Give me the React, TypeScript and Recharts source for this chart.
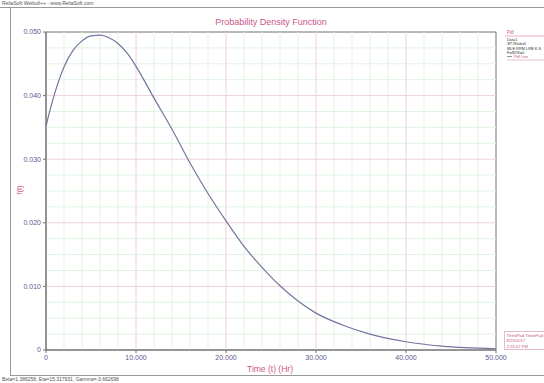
import React from 'react';
import { LineChart, Line, XAxis, YAxis, ReferenceLine, ReferenceArea } from 'recharts';

const times = [0, 0.5, 1, 2, 3, 4, 5, 6, 7, 8, 9, 10, 12, 14, 16, 18, 20, 22, 24, 26, 28, 30, 33, 36, 40, 44, 50];
const pdfValues = [0.0352, 0.038, 0.0405, 0.0445, 0.0471, 0.0486, 0.0494, 0.0495, 0.0491, 0.0482, 0.0467, 0.0446, 0.0396, 0.0347, 0.0294, 0.0246, 0.0203, 0.0163, 0.013, 0.0101, 0.0077, 0.0058, 0.0039, 0.0025, 0.0013, 0.0006, 0.0002];
const xTicks = [0, 10, 20, 30, 40, 50];
const yTicks = [0, 0.01, 0.02, 0.03, 0.04, 0.05];
const xMinor = [2, 4, 6, 8, 12, 14, 16, 18, 22, 24, 26, 28, 32, 34, 36, 38, 42, 44, 46, 48];
const yMinor = [0.0025, 0.005, 0.0075, 0.0125, 0.015, 0.0175, 0.0225, 0.025, 0.0275, 0.0325, 0.035, 0.0375, 0.0425, 0.045, 0.0475];
const xMajorGrid = [10, 20, 30, 40];
const yMajorGrid = [0.01, 0.02, 0.03, 0.04];
const legendLines = ['Data1', '3P-Weibull', 'MLE RRM LRB K-S', 'F=92/S=0'];
const stampLines = ['ThinkPad ThinkPad', '8/23/2017', '2:23:47 PM'];

const data = times.map((t, i) => ({ t, f: pdfValues[i] }));

const fmt = (v: number) => (v === 0 ? '0' : v.toFixed(3));

const PINK = '#cc5588';
const TICK = '#5a5a90';

export default function App() {
  return (
    <div style={{ position: 'absolute', left: 0, top: 0, width: 544, height: 383, background: '#fff', fontFamily: '"Liberation Sans", Arial, sans-serif' }}>
      <LineChart width={544} height={383} data={data} margin={{ top: 32, right: 48, bottom: 13, left: 0 }}>
        {xMinor.map((v) => (
          <ReferenceLine key={'xm' + v} x={v} stroke="#e2f3e2" strokeWidth={1} />
        ))}
        {yMinor.map((v) => (
          <ReferenceLine key={'ym' + v} y={v} stroke="#e2f3e2" strokeWidth={1} />
        ))}
        {xMajorGrid.map((v) => (
          <ReferenceLine key={'xM' + v} x={v} stroke="#efd0da" strokeWidth={1} />
        ))}
        {yMajorGrid.map((v) => (
          <ReferenceLine key={'yM' + v} y={v} stroke="#efd0da" strokeWidth={1} />
        ))}
        <ReferenceArea x1={0} x2={50} y1={0} y2={0.05} fill="none" stroke="#707070" strokeWidth={1} />
        <XAxis
          dataKey="t"
          type="number"
          domain={[0, 50]}
          ticks={xTicks}
          tickFormatter={fmt}
          height={20}
          tickSize={3}
          stroke="#707070"
          tick={{ fontSize: 7, fill: TICK }}
          interval={0}
        />
        <YAxis
          type="number"
          domain={[0, 0.05]}
          ticks={yTicks}
          tickFormatter={fmt}
          width={46}
          tickSize={3}
          stroke="#707070"
          tick={{ fontSize: 7, fill: TICK }}
          interval={0}
        />
        <Line type="monotone" dataKey="f" stroke="#74749f" strokeWidth={1.2} dot={false} isAnimationActive={false} />
      </LineChart>
      <svg width={544} height={383} style={{ position: 'absolute', left: 0, top: 0, pointerEvents: 'none' }}>
        <text x={2} y={5} fontSize={5} fill="#555">ReliaSoft Weibull++ - www.ReliaSoft.com</text>
        <line x1={0} y1={7.5} x2={544} y2={7.5} stroke="#999" strokeWidth={1} />
        <line x1={10.5} y1={8} x2={10.5} y2={375} stroke="#999" strokeWidth={1} />
        <line x1={10} y1={375.5} x2={544} y2={375.5} stroke="#999" strokeWidth={1} />
        <text x={2} y={381} fontSize={5} fill="#555">Beta=1.386258, Eta=15.317931, Gamma=-3.662698</text>
        <text x={271} y={25} fontSize={9} fill={PINK} textAnchor="middle">Probability Density Function</text>
        <text x={270} y={372} fontSize={8.5} fill={PINK} textAnchor="middle">Time (t) (Hr)</text>
        <text x={22} y={190} fontSize={7.5} fill={PINK} textAnchor="middle" transform="rotate(-90 22 190)">f(t)</text>
        <text x={507} y={34} fontSize={4.5} fill={PINK}>Pdf</text>
        <line x1={505} y1={36} x2={544} y2={36} stroke={PINK} strokeWidth={0.5} />
        {legendLines.map((s, i) => (
          <text key={s} x={507} y={41 + i * 4.3} fontSize={3.9} fill="#333">{s}</text>
        ))}
        <line x1={507} y1={56.5} x2={512} y2={56.5} stroke="#74749f" strokeWidth={0.8} />
        <text x={514} y={58} fontSize={3.9} fill={PINK}>Pdf Line</text>
        <line x1={507} y1={60} x2={544} y2={60} stroke={PINK} strokeWidth={0.4} />
        <rect x={504.5} y={331.5} width={45} height={18} fill="none" stroke="#e2a8c0" strokeWidth={0.8} />
        {stampLines.map((s, i) => (
          <text key={s} x={506.5} y={336.5 + i * 5.5} fontSize={4.2} fill={PINK}>{s}</text>
        ))}
      </svg>
    </div>
  );
}
